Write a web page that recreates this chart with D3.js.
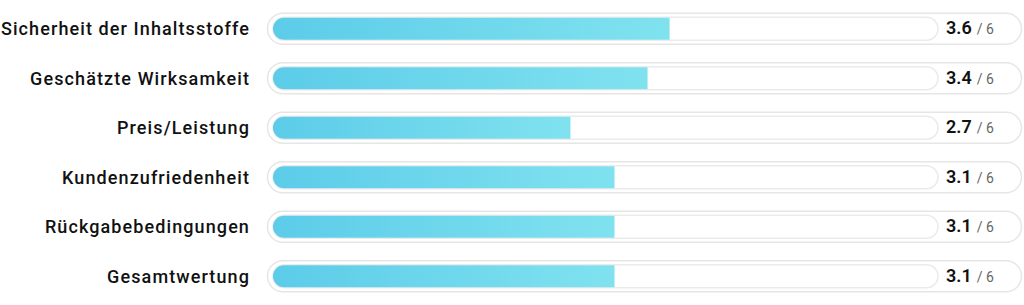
<!DOCTYPE html>
<html>
<head>
<meta charset="utf-8">
<script src="https://cdn.jsdelivr.net/npm/d3@7"></script>
<style>
  body { margin: 0; background: #fff; }
  svg { display: block; font-family: Roboto, "Noto Sans", sans-serif; }
</style>
</head>
<body>
<svg width="1024" height="305"></svg>
<script>
const categories = ['Sicherheit der Inhaltsstoffe', 'Geschätzte Wirksamkeit', 'Preis/Leistung',
  'Kundenzufriedenheit', 'Rückgabebedingungen', 'Gesamtwertung'];
const scores = [3.6, 3.4, 2.7, 3.1, 3.1, 3.1];
const maxScore = 6;

const svg = d3.select('svg');

const defs = svg.append('defs');
const grad = defs.append('linearGradient').attr('id', 'barGrad')
  .attr('x1', '0%').attr('x2', '100%').attr('y1', '0%').attr('y2', '0%');
grad.append('stop').attr('offset', '0%').attr('stop-color', '#5ccce9');
grad.append('stop').attr('offset', '100%').attr('stop-color', '#80e2ef');

const yScale = d3.scaleBand()
  .domain(categories)
  .range([4, 301])
  .padding(0);

const xScale = d3.scaleLinear()
  .domain([0, maxScore])
  .range([273, 934]);

const rows = svg.selectAll('.row')
  .data(categories)
  .enter()
  .append('g')
  .attr('class', 'row')
  .attr('transform', d => `translate(0,${yScale(d) + yScale.bandwidth() / 2})`);

// outer pill
rows.append('rect')
  .attr('x', 267.5)
  .attr('y', -15.5)
  .attr('width', 754)
  .attr('height', 31)
  .attr('rx', 15.5)
  .attr('fill', '#fff')
  .attr('stroke', '#e6e6e6')
  .attr('stroke-width', 1.5);

// inner track
rows.append('rect')
  .attr('x', xScale(0))
  .attr('y', -11.5)
  .attr('width', xScale(maxScore) - xScale(0) + 4)
  .attr('height', 23)
  .attr('rx', 11.5)
  .attr('fill', '#fff')
  .attr('stroke', '#ebebeb')
  .attr('stroke-width', 1.5);

// bar
rows.append('path')
  .attr('d', (d, i) => {
    const x0 = xScale(0), x1 = xScale(scores[i]), h = 22, r = 11;
    return `M${x0 + r},${-h / 2} H${x1} V${h / 2} H${x0 + r} A${r},${r} 0 0 1 ${x0 + r},${-h / 2} Z`;
  })
  .attr('fill', 'url(#barGrad)');

// labels
rows.append('text')
  .attr('x', 250)
  .attr('dy', '0.35em')
  .attr('text-anchor', 'end')
  .attr('font-size', 18)
  .attr('font-weight', 500)
  .attr('letter-spacing', 1.1)
  .attr('fill', '#111')
  .text(d => d);

// values
const val = rows.append('text')
  .attr('x', 946)
  .attr('dy', '0.35em')
  .attr('fill', '#111');
val.append('tspan')
  .attr('font-size', 18)
  .attr('font-weight', 600)
  .text((d, i) => scores[i].toFixed(1));
val.append('tspan')
  .attr('dx', 5)
  .attr('font-size', 14)
  .attr('fill', '#666')
  .text('/ ' + maxScore);
</script>
</body>
</html>
